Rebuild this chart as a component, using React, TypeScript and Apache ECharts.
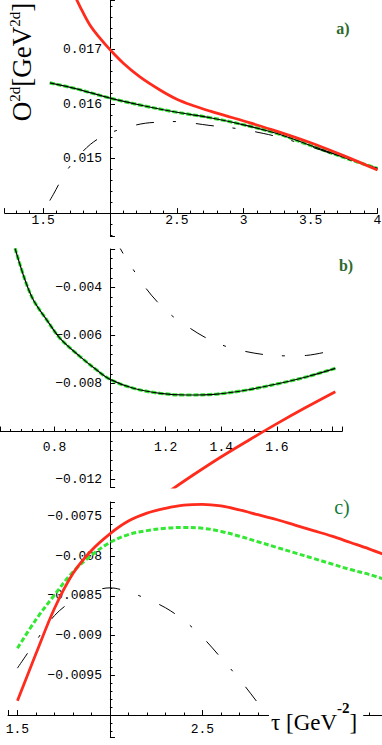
import React, { useEffect, useRef } from 'react';
import * as echarts from 'echarts';

// ---------- Panel a) ----------
const aRedTau = [1.72, 1.776, 1.85, 1.925, 2.0, 2.1, 2.224, 2.374, 2.5, 2.625, 2.75, 2.875, 3.0, 3.25, 3.5, 3.75, 4.0];
const aRedVal = [0.01808, 0.01779, 0.01745, 0.01721, 0.017, 0.01675, 0.0165, 0.01626, 0.01609, 0.01597, 0.01587, 0.01578, 0.01569, 0.0155, 0.01529, 0.01505, 0.01479];
const aGreenTau = [1.55, 1.75, 2.0, 2.25, 2.5, 2.75, 3.0, 3.25, 3.5, 3.75, 4.0];
const aGreenVal = [0.01639, 0.01628, 0.01611, 0.01597, 0.01585, 0.01575, 0.01562, 0.01546, 0.01524, 0.01502, 0.01482];
const aDashTau = [1.55, 1.576, 1.669, 1.76, 1.853, 1.96, 2.067, 2.167, 2.267, 2.38, 2.503, 2.62, 2.74, 2.952, 3.15, 3.3, 3.5, 3.75, 4.0];
const aDashVal = [0.01423, 0.01434, 0.01475, 0.01503, 0.01526, 0.01543, 0.01553, 0.0156, 0.01565, 0.01567, 0.01568, 0.01565, 0.01561, 0.01555, 0.01546, 0.01537, 0.01522, 0.01501, 0.01481];

// ---------- Panel b) ----------
const bGreenTau = [0.658, 0.694, 0.724, 0.772, 0.82, 0.892, 0.952, 1.0, 1.084, 1.18, 1.276, 1.384, 1.492, 1.612, 1.708, 1.81];
const bGreenVal = [-0.00237, -0.00369, -0.00452, -0.00535, -0.00612, -0.00688, -0.00744, -0.00783, -0.0082, -0.00841, -0.00848, -0.00844, -0.00827, -0.00799, -0.00772, -0.00737];
const bDashTau = [1.02, 1.036, 1.084, 1.12, 1.169, 1.227, 1.281, 1.348, 1.42, 1.48, 1.564, 1.647, 1.707, 1.78];
const bDashVal = [-0.0019, -0.00237, -0.00327, -0.0039, -0.00459, -0.00522, -0.00565, -0.00612, -0.00647, -0.00665, -0.00681, -0.00685, -0.00683, -0.00668];
const bRedTau = [1.22, 1.3, 1.4, 1.5, 1.6, 1.7, 1.81];
const bRedVal = [-0.01243, -0.0118, -0.01105, -0.01035, -0.00967, -0.00902, -0.00834];

// ---------- Panel c) ----------
const cRedTau = [1.5, 1.6, 1.7, 1.8, 1.9, 2.0, 2.1, 2.2, 2.3, 2.4, 2.5, 2.6, 2.7, 2.8, 2.9, 3.0, 3.1, 3.2, 3.3, 3.4, 3.48];
const cRedVal = [-0.00982, -0.00923, -0.00866, -0.00822, -0.00793, -0.00772, -0.00756, -0.00746, -0.0074, -0.00736, -0.00735, -0.00737, -0.00742, -0.00748, -0.00754, -0.00761, -0.00768, -0.00775, -0.00783, -0.00791, -0.00798];
const cGreenTau = [1.5, 1.6, 1.7, 1.8, 1.9, 2.0, 2.1, 2.2, 2.3, 2.4, 2.5, 2.6, 2.7, 2.8, 2.9, 3.0, 3.1, 3.2, 3.3, 3.4, 3.48];
const cGreenVal = [-0.00916, -0.0088, -0.00849, -0.0082, -0.00799, -0.00783, -0.00773, -0.00768, -0.00765, -0.00764, -0.00765, -0.00769, -0.00775, -0.00782, -0.00789, -0.00796, -0.00803, -0.0081, -0.00817, -0.00823, -0.00829];
const cDashTau = [1.5, 1.6, 1.7, 1.8, 1.9, 2.0, 2.1, 2.2, 2.3, 2.4, 2.5, 2.6, 2.7, 2.8, 2.83];
const cDashVal = [-0.00941, -0.00907, -0.00875, -0.00856, -0.00845, -0.0084, -0.00845, -0.00854, -0.00865, -0.00881, -0.00902, -0.00928, -0.00955, -0.00985, -0.00995];

// axis crossings, ranges and tick steps
const panelXCross = [2.0, 1.0, 2.0];
const panelYCross = [0.014, -0.01, -0.01];
const panelXRange = [[1.213, 4.0], [0.604, 1.834], [1.449, 3.47]];
const panelYRange = [[0.01358, 0.01791], [-0.01231, -0.0024], [-0.01028, -0.00732]];
const panelXStep = [0.5, 0.2, 0.5];
const panelYStep = [0.001, 0.002, 0.0005];
const panelXLabelMax = [99, 1.7, 2.9];
const panelTags = ['a)', 'b)', 'c)'];

const RED = '#ff2b1c';
const GREEN = '#33e833';
const MONO = "'Liberation Mono', 'Courier New', monospace";
const SERIF = 'Liberation Serif';

const grids = [
  { left: 4.7, top: 0, width: 372.8, height: 236 },
  { left: 0, top: 249, width: 342, height: 238 },
  { left: 8, top: 502, width: 373.9, height: 235.3 },
];
const xLabelMargins = [1, 9, 8];

function fmtNum(v: number) {
  const s = Number(v.toFixed(6)).toString();
  return s.replace('-', '\u2212');
}

function isMultipleFrom(v: number, origin: number, step: number) {
  const d = v - origin;
  const k = Math.round(d / step);
  return Math.abs(d - k * step) < step * 1e-3 && k !== 0;
}

function buildOption() {
  const xAxis: any[] = [];
  const yAxis: any[] = [];
  const series: any[] = [];
  for (let i = 0; i < 3; i++) {
    const xc = panelXCross[i];
    const yc = panelYCross[i];
    const xs = panelXStep[i];
    const ys = panelYStep[i];
    const [x0, x1] = panelXRange[i];
    const [y0, y1] = panelYRange[i];
    const g = grids[i];
    // move the axes from the grid edges to the crossing point (negative offset = inwards)
    const xOffset = -((yc - y0) / (y1 - y0)) * g.height;
    const yOffset = -((xc - x0) / (x1 - x0)) * g.width;
    xAxis.push({
      type: 'value',
      gridIndex: i,
      position: 'bottom',
      offset: xOffset,
      min: x0,
      max: x1,
      minInterval: xs,
      maxInterval: xs,
      splitNumber: 5,
      axisLine: { show: true, onZero: false, lineStyle: { color: '#000', width: 1 } },
      axisTick: { show: true, inside: true, length: 5, lineStyle: { color: '#000', width: 1 } },
      minorTick: { show: true, splitNumber: 5, length: 2.5, lineStyle: { color: '#000', width: 1 } },
      splitLine: { show: false },
      minorSplitLine: { show: false },
      axisLabel: {
        show: true,
        margin: xLabelMargins[i],
        fontFamily: MONO,
        fontSize: 13,
        color: '#000',
        hideOverlap: false,
        showMinLabel: true,
        showMaxLabel: true,
        formatter: (v: number) => {
          if (!isMultipleFrom(v, xc, xs)) return '';
          if (v > panelXLabelMax[i]) return '';
          return fmtNum(v);
        },
      },
    });
    yAxis.push({
      type: 'value',
      gridIndex: i,
      position: 'left',
      offset: yOffset,
      min: y0,
      max: y1,
      minInterval: ys,
      maxInterval: ys,
      splitNumber: 5,
      axisLine: { show: true, onZero: false, lineStyle: { color: '#000', width: 1 } },
      axisTick: { show: true, inside: true, length: 5, lineStyle: { color: '#000', width: 1 } },
      minorTick: { show: true, splitNumber: 5, length: 2.5, lineStyle: { color: '#000', width: 1 } },
      splitLine: { show: false },
      minorSplitLine: { show: false },
      axisLabel: {
        show: true,
        margin: 8,
        fontFamily: MONO,
        fontSize: 13,
        color: '#000',
        hideOverlap: false,
        showMinLabel: true,
        showMaxLabel: true,
        formatter: (v: number) => {
          if (!isMultipleFrom(v, yc, ys)) return '';
          return fmtNum(v);
        },
      },
    });
  }

  const mk = (i: number, tau: number[], val: number[], lineStyle: any, z: number, name: string) => ({
    type: 'line',
    name,
    xAxisIndex: i,
    yAxisIndex: i,
    data: tau.map((t, k) => [t, val[k]]),
    symbol: 'none',
    showSymbol: false,
    smooth: 0.35,
    clip: true,
    silent: true,
    z,
    lineStyle,
  });

  const greenSolid = { color: GREEN, width: 3.2, type: [5, 2] };
  const blackSolid = { color: '#000', width: 1.2 };
  const blackDash = { color: '#000', width: 1, type: [18, 19, 3, 20] };
  const redStyle = { color: RED, width: 2.8 };

  series.push(mk(0, aGreenTau, aGreenVal, greenSolid, 2, 'a-green'));
  series.push(mk(0, aGreenTau, aGreenVal, blackSolid, 3, 'a-black'));
  series.push(mk(0, aDashTau, aDashVal, blackDash, 3, 'a-dash'));
  series.push(mk(0, aRedTau, aRedVal, redStyle, 4, 'a-red'));

  series.push(mk(1, bGreenTau, bGreenVal, greenSolid, 2, 'b-green'));
  series.push(mk(1, bGreenTau, bGreenVal, blackSolid, 3, 'b-black'));
  series.push(mk(1, bDashTau, bDashVal, blackDash, 3, 'b-dash'));
  series.push(mk(1, bRedTau, bRedVal, redStyle, 4, 'b-red'));

  series.push(mk(2, cGreenTau, cGreenVal, { color: GREEN, width: 3, type: [5, 2.5] }, 2, 'c-green'));
  series.push(mk(2, cDashTau, cDashVal, blackDash, 3, 'c-dash'));
  series.push(mk(2, cRedTau, cRedVal, redStyle, 4, 'c-red'));

  const graphic: any[] = [
    {
      type: 'text',
      x: 37,
      y: 62,
      rotation: Math.PI / 2,
      z: 10,
      style: {
        text: '{o|O}{s|2d}{o|[GeV}{s|2d}{o|]}',
        align: 'center',
        verticalAlign: 'bottom',
        fill: '#000',
        rich: {
          o: { fontSize: 27, fontFamily: SERIF, lineHeight: 30, fill: '#000' },
          s: { fontSize: 15, fontFamily: SERIF, lineHeight: 16, verticalAlign: 'top', fill: '#000' },
        },
      },
    },
    {
      type: 'text',
      x: 269,
      y: 722,
      z: 10,
      style: {
        text: '{m|\u03c4 [GeV}{s|-2}{m|]}',
        align: 'left',
        verticalAlign: 'middle',
        backgroundColor: '#fff',
        padding: [0, 6, 0, 2],
        fill: '#000',
        rich: {
          m: { fontSize: 23, fontFamily: SERIF, lineHeight: 44, fill: '#000' },
          s: { fontSize: 15, fontFamily: SERIF, fontWeight: 'bold', lineHeight: 14, verticalAlign: 'top', fill: '#000' },
        },
      },
    },
    {
      type: 'text', x: 343, y: 28, z: 10,
      style: { text: panelTags[0], align: 'center', verticalAlign: 'middle', fill: '#2e6a2e', font: `bold 16px "${SERIF}"` },
    },
    {
      type: 'text', x: 346, y: 265, z: 10,
      style: { text: panelTags[1], align: 'center', verticalAlign: 'middle', fill: '#2e6a2e', font: `bold 16px "${SERIF}"` },
    },
    {
      type: 'text', x: 342, y: 507, z: 10,
      style: { text: panelTags[2], align: 'center', verticalAlign: 'middle', fill: '#157a3c', font: `20px "${SERIF}"` },
    },
  ];

  return {
    animation: false,
    backgroundColor: '#fff',
    grid: grids.map((g) => ({ ...g, containLabel: false, outerBoundsMode: 'none', show: false })),
    xAxis,
    yAxis,
    series,
    graphic,
  };
}

export default function App() {
  const ref = useRef<HTMLDivElement>(null);
  useEffect(() => {
    if (!ref.current) return;
    const chart = echarts.init(ref.current, null, { renderer: 'svg' });
    chart.setOption(buildOption() as any);
    return () => chart.dispose();
  }, []);
  return (
    <div
      ref={ref}
      style={{ position: 'fixed', left: 0, top: 0, width: 382, height: 745, background: '#fff' }}
    />
  );
}
